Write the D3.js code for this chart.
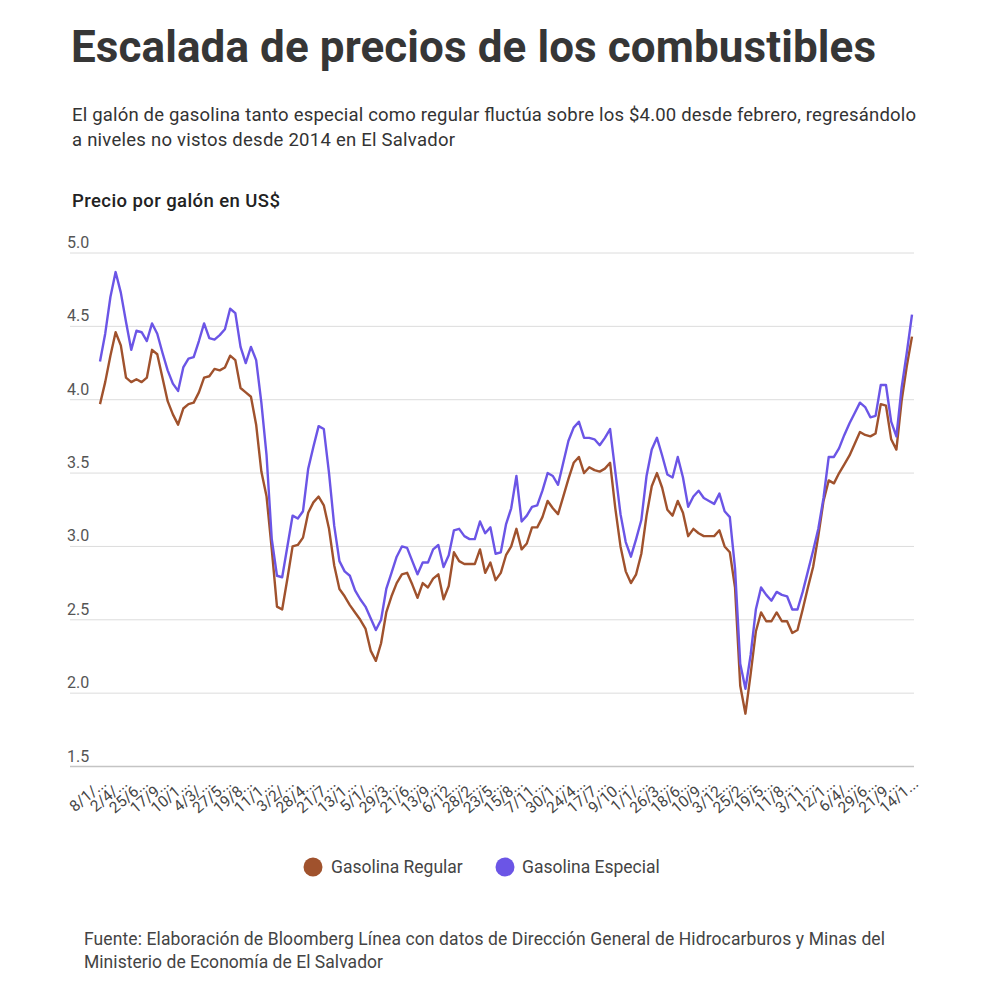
<!DOCTYPE html>
<html>
<head>
<meta charset="utf-8">
<script src="https://cdn.jsdelivr.net/npm/d3@7"></script>
<style>
  html, body { margin: 0; padding: 0; background: #fff; }
  svg { display: block; font-family: Roboto, "Noto Sans", sans-serif; }
</style>
</head>
<body>
<svg id="chart" width="1000" height="1000"></svg>
<script>
const seriesNames = ["Gasolina Regular", "Gasolina Especial"];
const seriesColors = ["#a0522d", "#6b55e6"];

const tickLabels = ["8/1/...","2/4/...","25/6...","17/9...","10/1...","4/3/...","27/5...","19/8...","11/1...","3/2/...",
  "28/4...","21/7...","13/1...","5/1/...","29/3...","21/6...","13/9...","6/12...","28/2...","23/5...",
  "15/8...","7/11...","30/1...","24/4...","17/7...","9/10...","1/1/...","26/3...","18/6...","10/9...",
  "3/12...","25/2...","19/5...","11/8...","3/11...","12/1...","6/4/...","29/6...","21/9...","14/1..."];

const yTicks = [1.5, 2.0, 2.5, 3.0, 3.5, 4.0, 4.5, 5.0];

const regular = [3.97,4.12,4.30,4.46,4.37,4.15,4.12,4.14,4.12,4.15,
  4.34,4.31,4.15,3.99,3.90,3.83,3.94,3.97,3.98,4.05,
  4.15,4.16,4.21,4.20,4.22,4.30,4.27,4.08,4.05,4.02,
  3.83,3.51,3.34,2.98,2.59,2.57,2.78,3.00,3.01,3.06,
  3.23,3.30,3.34,3.28,3.12,2.87,2.71,2.66,2.60,2.55,
  2.50,2.44,2.29,2.22,2.34,2.55,2.66,2.75,2.81,2.82,
  2.74,2.65,2.75,2.72,2.78,2.81,2.64,2.73,2.96,2.90,
  2.88,2.88,2.88,2.98,2.82,2.89,2.77,2.82,2.94,3.00,
  3.12,2.98,3.02,3.13,3.13,3.20,3.31,3.26,3.22,3.34,
  3.46,3.57,3.61,3.50,3.54,3.52,3.51,3.53,3.57,3.26,
  3.00,2.83,2.75,2.81,2.95,3.21,3.41,3.50,3.40,3.25,
  3.21,3.31,3.23,3.07,3.12,3.09,3.07,3.07,3.07,3.11,
  3.00,2.96,2.72,2.05,1.86,2.13,2.42,2.55,2.49,2.49,
  2.55,2.49,2.49,2.41,2.43,2.57,2.72,2.86,3.07,3.31,
  3.45,3.43,3.50,3.56,3.62,3.70,3.78,3.76,3.75,3.77,
  3.97,3.96,3.73,3.66,3.99,4.23,4.43];

const especial = [4.26,4.45,4.70,4.87,4.73,4.53,4.34,4.47,4.46,4.40,
  4.52,4.45,4.32,4.20,4.11,4.06,4.22,4.28,4.29,4.40,
  4.52,4.42,4.41,4.44,4.48,4.62,4.59,4.36,4.25,4.36,
  4.27,3.98,3.62,3.05,2.80,2.79,3.00,3.21,3.19,3.24,
  3.53,3.68,3.82,3.80,3.50,3.14,2.90,2.83,2.80,2.70,
  2.64,2.59,2.51,2.43,2.50,2.71,2.82,2.93,3.00,2.99,
  2.90,2.81,2.89,2.89,2.98,3.01,2.86,2.94,3.11,3.12,
  3.07,3.05,3.05,3.17,3.09,3.13,2.95,2.96,3.15,3.26,
  3.48,3.17,3.21,3.27,3.28,3.38,3.50,3.48,3.42,3.57,
  3.72,3.81,3.85,3.74,3.74,3.73,3.69,3.74,3.80,3.51,
  3.22,3.03,2.93,3.05,3.18,3.48,3.66,3.74,3.62,3.49,
  3.47,3.61,3.47,3.27,3.34,3.38,3.33,3.31,3.29,3.36,
  3.24,3.20,2.85,2.20,2.03,2.26,2.57,2.72,2.67,2.63,
  2.69,2.67,2.66,2.57,2.57,2.69,2.83,2.97,3.12,3.33,
  3.61,3.61,3.67,3.76,3.84,3.91,3.98,3.95,3.88,3.89,
  4.10,4.10,3.85,3.75,4.08,4.32,4.58];

const labelEvery = 4;

const svg = d3.select("#chart");
svg.append("rect").attr("width", 1000).attr("height", 1000).attr("fill", "#fff");

// Titles
svg.append("text").attr("x", 71).attr("y", 62)
  .attr("font-size", 44).attr("font-weight", 700).attr("fill", "#363636")
  .attr("textLength", 805).attr("lengthAdjust", "spacing")
  .text("Escalada de precios de los combustibles");

const sub = [
  ["El galón de gasolina tanto especial como regular fluctúa sobre los $4.00 desde febrero, regresándolo", 121, 844],
  ["a niveles no vistos desde 2014 en El Salvador", 146, 383]
];
sub.forEach(([t, y, w]) => {
  svg.append("text").attr("x", 72).attr("y", y)
    .attr("font-size", 18.5).attr("fill", "#333")
    .attr("textLength", w).attr("lengthAdjust", "spacing")
    .text(t);
});

svg.append("text").attr("x", 72).attr("y", 207)
  .attr("font-size", 18.5).attr("font-weight", 500).attr("fill", "#222")
  .attr("textLength", 208).attr("lengthAdjust", "spacing")
  .text("Precio por galón en US$");

// Scales
const idx = d3.range(regular.length);
const x = d3.scalePoint().domain(idx).range([100, 912]);
const y = d3.scaleLinear().domain([1.5, 5.0]).range([766.5, 253]);

// Grid
const grid = svg.append("g");
grid.selectAll("line").data(yTicks).join("line")
  .attr("x1", 70).attr("x2", 914)
  .attr("y1", d => y(d)).attr("y2", d => y(d))
  .attr("stroke", d => d === 1.5 ? "#c4c4c4" : "#dcdcdc")
  .attr("stroke-width", d => d === 1.5 ? 1.5 : 1);

grid.selectAll("text").data(yTicks).join("text")
  .attr("x", 67).attr("y", d => y(d) - 5)
  .attr("font-size", 16).attr("fill", "#555")
  .text(d => d3.format(".1f")(d));

// X labels
const xl = svg.append("g");
xl.selectAll("text").data(tickLabels).join("text")
  .attr("transform", (d, k) => `translate(${x(k * labelEvery) + 4},781) rotate(-40)`)
  .attr("text-anchor", "end")
  .attr("dy", "0.35em")
  .attr("font-size", 15.5).attr("fill", "#444")
  .text(d => d);

// Lines
const line = d3.line().x((d, i) => x(i)).y(d => y(d)).curve(d3.curveLinear);
[regular, especial].forEach((s, k) => {
  svg.append("path").datum(s)
    .attr("d", line)
    .attr("fill", "none")
    .attr("stroke", seriesColors[k])
    .attr("stroke-width", 2.4)
    .attr("stroke-linejoin", "round");
});

// Legend
const legendItems = [[313, 331], [505, 522]];
seriesNames.forEach((n, k) => {
  svg.append("circle").attr("cx", legendItems[k][0]).attr("cy", 867).attr("r", 9.5)
    .attr("fill", seriesColors[k]);
  svg.append("text").attr("x", legendItems[k][1]).attr("y", 867).attr("dy", "0.35em")
    .attr("font-size", 17.5).attr("fill", "#444").text(n);
});

// Source
[["Fuente: Elaboración de Bloomberg Línea con datos de Dirección General de Hidrocarburos y Minas del", 945, 801],
 ["Ministerio de Economía de El Salvador", 968, 299]].forEach(([t, yy, w]) => {
  svg.append("text").attr("x", 84).attr("y", yy)
    .attr("font-size", 17.5).attr("fill", "#444")
    .attr("textLength", w).attr("lengthAdjust", "spacing")
    .text(t);
});
</script>
</body>
</html>
